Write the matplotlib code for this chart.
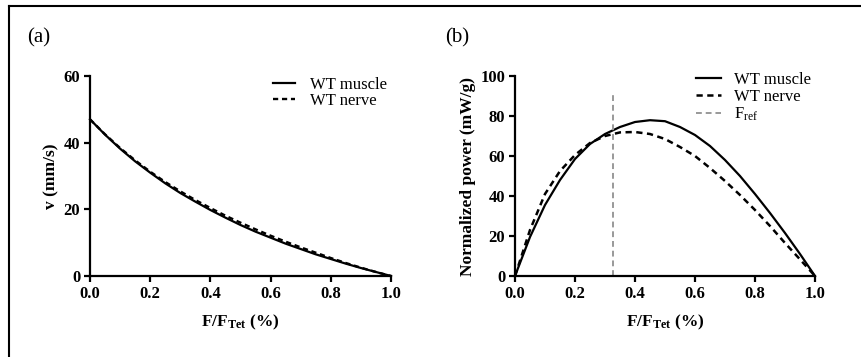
import matplotlib
matplotlib.use("Agg")
import matplotlib.pyplot as plt
from matplotlib.lines import Line2D

plt.rcParams['font.family'] = ['Liberation Serif', 'DejaVu Serif']
plt.rcParams['mathtext.fontset'] = 'custom'
plt.rcParams['mathtext.rm'] = 'Liberation Serif'
plt.rcParams['mathtext.bf'] = 'Liberation Serif:bold'
plt.rcParams['mathtext.it'] = 'Liberation Serif:italic'

# force fraction F/F_Tet
force = [0.0, 0.05, 0.1, 0.15, 0.2, 0.25, 0.3, 0.35, 0.4, 0.45, 0.5,
         0.55, 0.6, 0.65, 0.7, 0.75, 0.8, 0.85, 0.9, 0.95, 1.0]

# (a) velocity (mm/s)
v_muscle = [47.0, 42.4, 38.2, 34.4, 31.0, 27.8, 24.9, 22.3, 19.8, 17.5, 15.3,
            13.3, 11.5, 9.7, 8.1, 6.5, 5.1, 3.7, 2.4, 1.2, 0.0]
v_nerve = [47.0, 42.5, 38.4, 34.7, 31.3, 28.2, 25.4, 22.8, 20.4, 18.1, 16.0,
           14.0, 12.1, 10.3, 8.6, 7.0, 5.4, 3.9, 2.5, 1.2, 0.0]

# (b) normalized power (mW/g)
p_muscle = [0.0, 19.5, 35.5, 48.0, 58.5, 66.0, 71.0, 74.5, 77.0, 77.9, 77.4,
            74.5, 70.5, 65.0, 58.0, 50.0, 41.0, 31.5, 21.5, 11.0, 0.0]
p_nerve = [0.0, 23.0, 41.0, 52.5, 60.5, 66.5, 70.0, 71.8, 72.0, 71.0, 68.5,
           64.5, 60.0, 54.0, 47.5, 40.5, 33.0, 25.0, 16.5, 8.3, 0.0]

f_ref = 0.328
f_ref_top = 92

W, H = 861, 357
fig = plt.figure(figsize=(W / 100, H / 100), dpi=100)

ax_a = fig.add_axes([90 / W, 1 - 276 / H, 301 / W, 200 / H])
ax_b = fig.add_axes([515 / W, 1 - 276 / H, 300 / W, 200 / H])

xlab = r'$\mathbf{F/F_{Tet}}$ (%)'

def style(ax, ymax, ystep, ylabel):
    ax.set_xlim(0, 1.0)
    ax.set_ylim(0, ymax)
    ax.set_xticks([0.0, 0.2, 0.4, 0.6, 0.8, 1.0])
    ax.set_xticklabels(['0.0', '0.2', '0.4', '0.6', '0.8', '1.0'])
    ax.set_yticks(range(0, ymax + 1, ystep))
    for s in ['top', 'right']:
        ax.spines[s].set_visible(False)
    for s in ['left', 'bottom']:
        ax.spines[s].set_linewidth(1.6)
    ax.tick_params(direction='out', length=4, width=1.6, labelsize=12, pad=3)
    for lab in ax.get_xticklabels() + ax.get_yticklabels():
        lab.set_fontweight('bold')
    ax.set_xlabel(xlab, fontsize=12.5, fontweight='bold', labelpad=8)
    ax.set_ylabel(ylabel, fontsize=12.5, fontweight='bold', labelpad=3)

ax_a.plot(force, v_muscle, color='black', lw=1.6, label='WT muscle', clip_on=False)
ax_a.plot(force, v_nerve, color='black', lw=1.7, ls=(0, (2.2, 1.6)), label='WT nerve', clip_on=False)
style(ax_a, 60, 20, 'v (mm/s)')
ax_a.legend(loc='upper right', bbox_to_anchor=(1.02, 1.045), frameon=False, fontsize=12,
            handlelength=1.3, handletextpad=0.9, labelspacing=0.0, borderaxespad=0.2)

ax_b.plot(force, p_muscle, color='black', lw=1.6, label='WT muscle', clip_on=False)
ax_b.plot(force, p_nerve, color='black', lw=1.8, ls=(0, (2.5, 1.8)), label='WT nerve', clip_on=False)
ax_b.plot([f_ref, f_ref], [0, f_ref_top], color='#999999', lw=1.4, ls=(0, (3, 2)),
          label=r'F$_{\mathrm{ref}}$')
style(ax_b, 100, 20, 'Normalized power (mW/g)')
ax_b.legend(loc='upper right', bbox_to_anchor=(1.02, 1.07), frameon=False, fontsize=12,
            handlelength=1.5, handletextpad=0.8, labelspacing=0.05, borderaxespad=0.2)

fig.text(27 / W, 1 - 38 / H, '(a)', fontsize=15, va='center', ha='left')
fig.text(445 / W, 1 - 38 / H, '(b)', fontsize=15, va='center', ha='left')

# outer frame (left and top edges visible)
fig.add_artist(Line2D([8.5 / W, 8.5 / W], [0, 1 - 5.5 / H], transform=fig.transFigure,
                      color='black', lw=1.5))
fig.add_artist(Line2D([8.5 / W, 1], [1 - 5.5 / H, 1 - 5.5 / H], transform=fig.transFigure,
                      color='black', lw=1.5))

fig.savefig('out.png', dpi=100)
